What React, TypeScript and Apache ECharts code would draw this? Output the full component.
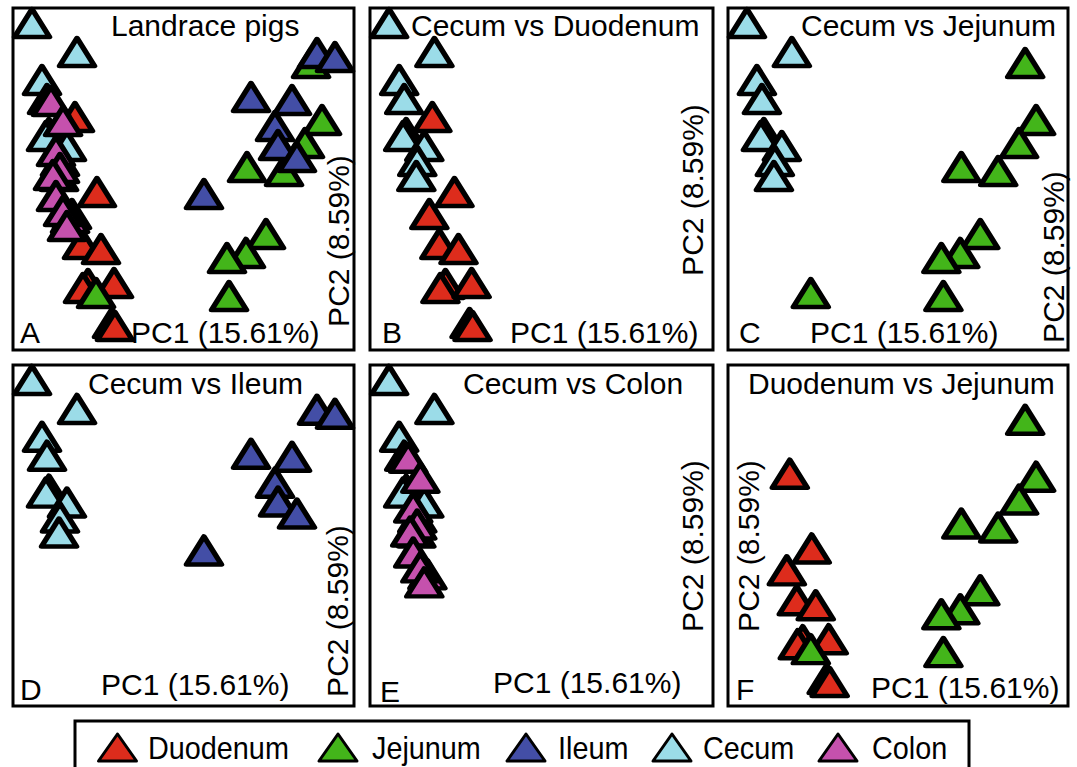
import React, { useEffect, useRef } from "react";
import * as echarts from "echarts";

// ---- Data (PC1, PC2 scores, arbitrary units) ----
const CATEGORIES = ["Duodenum", "Jejunum", "Ileum", "Cecum", "Colon"];
const COLORS = ["#DD2C1C", "#43B51A", "#434EA6", "#9BDCE8", "#C551AD"];

const duodenum: [number, number][] = [
  [-12.73, 7.25], [-10.15, -1.52], [-13.08, -4.09], [-11.91, -7.6], [-9.68, -8.19],
  [-11.2, -12.28], [-11.79, -12.75], [-8.15, -12.16], [-8.39, -16.84], [-8.04, -17.19],
];
const jejunum: [number, number][] = [
  [14.96, 13.57], [16.25, 6.9], [14.25, 4.21], [7.45, 1.4], [11.79, 0.94],
  [9.68, -6.43], [7.33, -8.65], [5.1, -9.24], [5.34, -13.68], [-10.26, -13.33],
];
const ileum: [number, number][] = [
  [15.66, 14.74], [17.77, 14.27], [7.92, 9.59], [12.73, 9.24], [10.73, 6.2],
  [11.09, 3.98], [13.31, 2.57], [2.4, -1.75],
];
const cecum: [number, number][] = [
  [-17.77, 18.25], [-12.49, 14.85], [-16.6, 11.58], [-16.01, 9.36], [-15.78, 5.38],
  [-16.13, 5.03], [-13.67, 3.86], [-14.49, 2.11], [-14.6, 0.35],
];
const colon: [number, number][] = [
  [-15.54, 9.12], [-14.13, 6.78], [-14.96, 3.27], [-14.49, 1.29], [-15.31, 0.47],
  [-14.96, -1.99], [-13.31, -4.56], [-14.13, -3.74], [-13.67, -5.5],
];
const GROUP_DATA = [duodenum, jejunum, ileum, cecum, colon];

const PANEL_TITLES = [
  "Landrace pigs", "Cecum vs Duodenum", "Cecum vs Jejunum",
  "Cecum vs Ileum", "Cecum vs Colon", "Duodenum vs Jejunum",
];
const PANEL_LETTERS = ["A", "B", "C", "D", "E", "F"];
const PANEL_GROUPS = [[0, 1, 2, 3, 4], [0, 3], [1, 3], [2, 3], [3, 4], [0, 1]];
const X_LABEL = "PC1 (15.61%)";
const Y_LABEL = "PC2 (8.59%)";
const AXIS_MIN = -20;
const AXIS_MAX = 20;

// ---- Layout ----
const GRID_BOXES = [
  [13, 8, 341, 342], [370, 8, 343, 342], [728, 8, 340, 342],
  [13, 365, 341, 341], [370, 365, 343, 341], [728, 365, 340, 341],
];
const TITLE_POS = [[111, 25], [411, 25], [801, 25], [88, 383], [463, 383], [748, 383]];
const LETTER_POS = [[20, 332], [382, 332], [739, 332], [20, 689], [380, 691], [736, 689]];
const XLAB_POS = [[131, 332], [510, 332], [810, 332], [101, 684], [493, 682], [871, 687]];
const YLAB_POS = [[338, 241], [692, 190], [1053, 257], [337, 611], [692, 546], [748, 546]];
const LEGEND_ICON_X = [117.5, 338, 526, 672, 838];
const LEGEND_TEXT_X = [148, 372, 558, 703, 872];

const FONT = '"Liberation Sans", Arial, Helvetica, sans-serif';

export default function App() {
  const ref = useRef<HTMLDivElement>(null);

  useEffect(() => {
    if (!ref.current) return;
    const chart = echarts.init(ref.current, undefined, { renderer: "svg" });

    const grid = GRID_BOXES.map(([l, t, w, h]) => ({
      left: l, top: t, width: w, height: h,
      show: true, borderColor: "#000", borderWidth: 3, backgroundColor: "transparent",
    }));
    const xAxis = GRID_BOXES.map((_, i) => ({
      type: "value", gridIndex: i, min: AXIS_MIN, max: AXIS_MAX, show: false,
    }));
    const yAxis = GRID_BOXES.map((_, i) => ({
      type: "value", gridIndex: i, min: AXIS_MIN, max: AXIS_MAX, show: false,
    }));

    const series: any[] = [];
    PANEL_GROUPS.forEach((groups, i) => {
      groups.forEach((g) => {
        series.push({
          type: "scatter",
          name: CATEGORIES[g],
          xAxisIndex: i,
          yAxisIndex: i,
          data: GROUP_DATA[g],
          symbol: "triangle",
          symbolSize: [35, 28],
          silent: true,
          clip: false,
          itemStyle: {
            color: COLORS[g],
            borderColor: "#000",
            borderWidth: 5,
            borderJoin: "round",
            opacity: 1,
          },
          emphasis: { disabled: true },
        });
      });
    });

    const graphics: any[] = [];
    GRID_BOXES.forEach((_, i) => {
      graphics.push({
        type: "text", x: TITLE_POS[i][0], y: TITLE_POS[i][1],
        style: { text: PANEL_TITLES[i], fontSize: 30, fontFamily: FONT, fill: "#000", textAlign: "left", textVerticalAlign: "middle" },
      });
      graphics.push({
        type: "text", x: LETTER_POS[i][0], y: LETTER_POS[i][1],
        style: { text: PANEL_LETTERS[i], fontSize: 30, fontFamily: FONT, fill: "#000", textAlign: "left", textVerticalAlign: "middle" },
      });
      graphics.push({
        type: "text", x: XLAB_POS[i][0], y: XLAB_POS[i][1],
        style: { text: X_LABEL, fontSize: 30, fontFamily: FONT, fill: "#000", textAlign: "left", textVerticalAlign: "middle" },
      });
      graphics.push({
        type: "text", x: YLAB_POS[i][0], y: YLAB_POS[i][1], rotation: Math.PI / 2,
        style: { text: Y_LABEL, fontSize: 30, fontFamily: FONT, fill: "#000", textAlign: "center", textVerticalAlign: "middle" },
      });
    });

    // Legend
    graphics.push({
      type: "rect",
      shape: { x: 75, y: 721, width: 894, height: 90 },
      style: { fill: "#fff", stroke: "#000", lineWidth: 3 },
      z: 1,
    });
    CATEGORIES.forEach((name, g) => {
      const cx = LEGEND_ICON_X[g];
      graphics.push({
        type: "polygon",
        shape: { points: [[cx - 19, 761], [cx + 19, 761], [cx, 734]] },
        style: { fill: COLORS[g], stroke: "#000", lineWidth: 3, lineJoin: "round" },
        z: 2,
      });
      graphics.push({
        type: "text", x: LEGEND_TEXT_X[g], y: 747.5, scaleX: 0.9, z: 2,
        style: { text: name, fontSize: 32, fontFamily: FONT, fill: "#000", textAlign: "left", textVerticalAlign: "middle" },
      });
    });

    chart.setOption({
      animation: false,
      backgroundColor: "#fff",
      grid,
      xAxis,
      yAxis,
      series,
      graphic: { elements: graphics },
    });

    return () => chart.dispose();
  }, []);

  return (
    <div
      ref={ref}
      style={{ position: "fixed", left: 0, top: 0, width: 1077, height: 767 }}
    />
  );
}
